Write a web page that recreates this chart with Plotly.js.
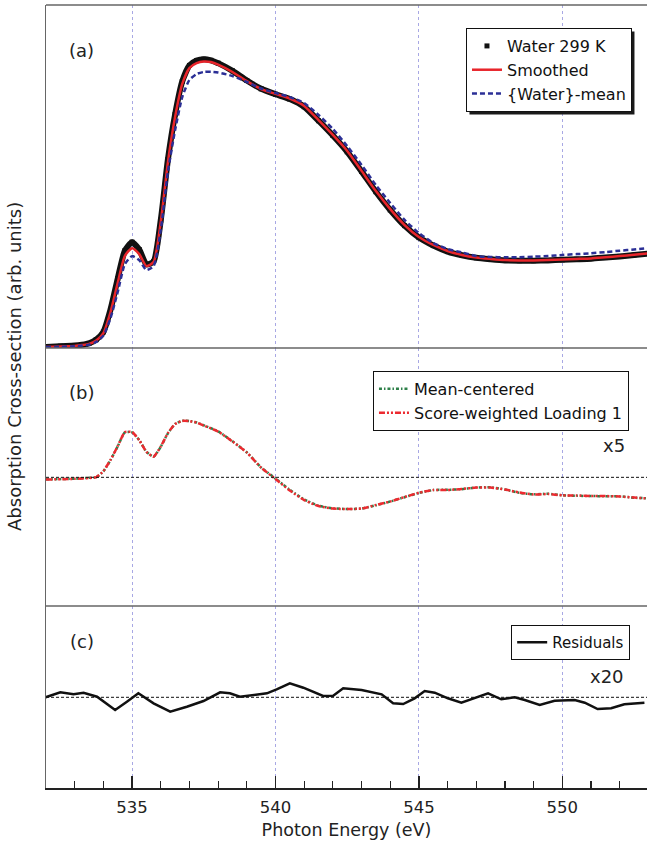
<!DOCTYPE html>
<html><head><meta charset="utf-8">
<script src="https://cdn.plot.ly/plotly-3.0.1.min.js"></script>
<style>html,body{margin:0;padding:0;background:#fff}#chart{width:647px;height:841px}</style>
</head><body><div id="chart"></div>
<script>
// Panel (a): absorption spectra
const energyA = [532,532.5,533,533.25,533.5,533.75,534,534.25,534.5,534.75,535,535.25,535.5,535.75,536,536.25,536.5,536.75,537,537.25,537.5,537.75,538,538.5,539,539.5,540,540.5,541,541.5,542,542.5,543,543.5,544,544.5,545,545.5,546,546.5,547,547.5,548,548.5,549,549.5,550,550.5,551,551.5,552,552.5,553];
const water299K = [0.0,0.3,0.5,0.8,1.3,2.6,5.3,13.2,24.0,33.8,36.8,34.2,29.0,30.0,44.5,65.8,81.6,93.2,98.8,100.5,101.0,100.6,99.6,96.9,93.5,90.6,88.7,87.0,84.3,79.4,74.2,68.5,61.6,54.5,48.1,42.6,38.4,35.6,33.5,32.2,31.3,30.8,30.4,30.3,30.3,30.4,30.6,30.8,31.0,31.4,31.8,32.3,32.8];
const smoothed = [0.0,0.2,0.4,0.7,1.1,2.3,4.9,12.3,22.5,32.0,34.7,32.6,28.4,29.8,43.9,64.9,80.7,92.3,97.9,99.6,100.2,100.0,99.1,96.5,93.3,90.5,88.8,87.2,84.6,79.6,74.4,68.8,61.8,54.7,48.4,42.8,38.6,35.8,33.7,32.3,31.4,30.9,30.5,30.4,30.4,30.5,30.7,30.9,31.1,31.5,31.9,32.4,32.9];
const waterMean = [0.0,0.1,0.3,0.5,0.8,1.8,4.0,10.2,19.3,29.1,31.9,30.5,27.0,28.4,41.0,61.4,76.1,87.7,93.7,95.8,96.5,96.6,96.3,95.1,93.0,90.7,89.1,87.7,85.6,81.4,76.5,70.5,63.9,56.8,50.5,44.6,40.0,36.5,34.4,33.2,31.9,31.6,31.5,31.5,31.7,31.9,32.3,32.6,32.9,33.3,33.8,34.2,34.7];

// Panel (b): mean-centered spectrum and score-weighted loading (x5)
const energyB = [532,533,533.5,533.75,534,534.25,534.5,534.75,535,535.25,535.5,535.75,536,536.25,536.5,536.75,537,537.25,537.5,538,538.5,539,539.5,540,540.5,541,541.5,542,542.5,543,543.5,544,544.5,545,545.5,546,546.5,547,547.5,548,548.5,549,549.5,550,550.5,551,551.5,552,552.5,553];
const meanCentered = [-0.20,-0.14,-0.05,0.00,0.60,1.73,3.10,4.50,4.50,3.73,2.56,2.06,3.06,4.40,5.33,5.66,5.63,5.48,5.20,4.60,3.60,2.50,0.98,-0.12,-1.25,-2.22,-2.84,-3.10,-3.17,-3.12,-2.79,-2.42,-1.99,-1.56,-1.27,-1.25,-1.18,-1.02,-1.00,-1.22,-1.55,-1.70,-1.64,-1.80,-1.85,-1.86,-1.90,-1.90,-2.04,-2.10];
const scoreLoading1 = [-0.22,-0.15,-0.06,0.01,0.62,1.75,3.12,4.52,4.53,3.72,2.55,2.07,3.08,4.42,5.32,5.64,5.62,5.47,5.18,4.58,3.58,2.48,0.97,-0.17,-1.32,-2.27,-2.87,-3.12,-3.17,-3.12,-2.77,-2.42,-1.97,-1.54,-1.27,-1.27,-1.17,-1.02,-1.02,-1.22,-1.52,-1.72,-1.67,-1.80,-1.82,-1.87,-1.87,-1.92,-2.02,-2.12];

// Panel (c): residuals (x20)
const energyC = [531.98,532.5,532.96,533.31,533.78,534.41,534.82,535.22,535.75,536.33,536.91,537.49,538.07,538.41,538.76,539.23,539.7,540.04,540.5,540.97,541.66,542.01,542.36,543.0,543.7,544.1,544.45,544.85,545.2,545.55,546.01,546.48,546.94,547.41,547.87,548.34,548.69,549.21,549.73,550.43,550.78,551.23,551.7,552.16,552.86];
const residuals = [0.0,0.5,0.3,0.46,0.06,-1.27,-0.44,0.4,-0.6,-1.44,-0.94,-0.37,0.5,0.4,0.06,0.23,0.4,0.8,1.4,0.96,0.13,0.16,0.9,0.73,0.3,-0.6,-0.67,-0.1,0.63,0.46,-0.1,-0.54,-0.1,0.4,-0.2,0.0,-0.27,-0.77,-0.34,-0.27,-0.54,-1.17,-1.1,-0.7,-0.54];

const FONT = 'DejaVu Sans, sans-serif';
const TXT = '#222';

const traces = [
  {x: energyA, y: water299K, xaxis:'x', yaxis:'y', mode:'lines', line:{color:'#111', width:6, shape:'spline', smoothing:0.6},
   legendgroup:'raw', showlegend:false, legend:'legend', hoverinfo:'skip'},
  {x: energyA, y: water299K, xaxis:'x', yaxis:'y', mode:'markers', name:'Water 299 K',
   marker:{symbol:'square', size:5, color:'#111'}, legendgroup:'raw', legend:'legend'},
  {x: energyA, y: smoothed, xaxis:'x', yaxis:'y', mode:'lines', name:'Smoothed',
   line:{color:'#e8252b', width:2.5, shape:'spline', smoothing:0.6}, legend:'legend'},
  {x: energyA, y: waterMean, xaxis:'x', yaxis:'y', mode:'lines', name:'{Water}-mean',
   line:{color:'#2b2f96', width:2.5, dash:'5px,3px', shape:'spline', smoothing:0.6}, legend:'legend'},

  {x: energyB, y: meanCentered, xaxis:'x', yaxis:'y2', mode:'lines', name:'Mean-centered',
   line:{color:'#2e8049', width:2.5, dash:'3px,2px,1.5px,2px', shape:'spline', smoothing:0.5}, legend:'legend2'},
  {x: energyB, y: scoreLoading1, xaxis:'x', yaxis:'y2', mode:'lines', name:'Score-weighted Loading 1',
   line:{color:'#ec2a30', width:2.5, dash:'6px,2px,2px,2px,2px,2px', shape:'spline', smoothing:0.5}, legend:'legend2'},

  {x: energyC, y: residuals, xaxis:'x', yaxis:'y3', mode:'lines', name:'Residuals',
   line:{color:'#111', width:2.5}, legend:'legend3'}
];

const yCommon = {showticklabels:false, ticks:'', showgrid:false, zeroline:false, showline:true, linecolor:'#666', linewidth:1.5, anchor:'x'};
const legCommon = {xanchor:'right', yanchor:'top', bgcolor:'#fff', bordercolor:'#111', borderwidth:1, tracegroupgap:0, itemwidth:30};
const ann = (text, x, y, size, extra) => Object.assign({text, x, y, xref:'paper', yref:'paper', xanchor:'center', yanchor:'middle',
  showarrow:false, font:{size, family:FONT, color:TXT}}, extra || {});

const layout = {
  width:647, height:841,
  margin:{l:46, r:0, t:5, b:53},
  paper_bgcolor:'#fff', plot_bgcolor:'rgba(0,0,0,0)',
  font:{family:FONT, color:TXT, size:16},
  xaxis:{anchor:'y3', range:[532,552.95], tick0:535, dtick:5, ticks:'inside', ticklen:12, tickwidth:1.5, tickcolor:'#222',
    showline:true, linecolor:'#222', linewidth:1.5, zeroline:false,
    showgrid:true, gridcolor:'#a8a8e4', griddash:'dot', gridwidth:1,
    minor:{dtick:1, ticks:'inside', ticklen:7, tickwidth:1.2, tickcolor:'#222', showgrid:false},
    tickfont:{size:16.5, family:FONT, color:TXT}, ticklabelstandoff:4,
    title:{text:'Photon Energy (eV)', font:{size:17.5, family:FONT, color:TXT}, standoff:7}},
  yaxis:Object.assign({domain:[0.5619,1], range:[-0.35,120]}, yCommon),
  yaxis2:Object.assign({domain:[0.2324,0.5619], range:[-12.87,12.93]}, yCommon),
  yaxis3:Object.assign({domain:[0,0.2324], range:[-9.07,9.13]}, yCommon),
  legend:Object.assign({x:0.975, y:0.9706, font:{size:16, family:FONT, color:'#111'}}, legCommon),
  legend2:Object.assign({x:0.970, y:0.5326, font:{size:16, family:FONT, color:'#111'}}, legCommon),
  legend3:Object.assign({x:0.972, y:0.2082, font:{size:15, family:FONT, color:'#111'}}, legCommon),
  shapes:[
    {type:'line', xref:'paper', yref:'paper', x0:0, x1:1, y0:1, y1:1, line:{color:'#666', width:1.5}},
    {type:'line', xref:'paper', yref:'paper', x0:0, x1:1, y0:0.5619, y1:0.5619, line:{color:'#666', width:1.5}},
    {type:'line', xref:'paper', yref:'paper', x0:0, x1:1, y0:0.2324, y1:0.2324, line:{color:'#666', width:1.5}},
    {type:'line', xref:'paper', yref:'y2', x0:0, x1:1, y0:0, y1:0, line:{color:'#111', width:1, dash:'3px,2px'}},
    {type:'line', xref:'paper', yref:'y3', x0:0, x1:1, y0:0, y1:0, line:{color:'#111', width:1, dash:'3px,2px'}}
  ],
  annotations:[
    ann('(a)', 0.0599, 0.9413, 18),
    ann('(b)', 0.0599, 0.5057, 18),
    ann('(c)', 0.0599, 0.1877, 18),
    ann('x5', 0.945, 0.438, 18),
    ann('x20', 0.9334, 0.1418, 18),
    ann('Absorption Cross-section (arb. units)', -0.0516, 0.539, 18, {textangle:-90})
  ]
};

Plotly.newPlot('chart', traces, layout, {displayModeBar:false, staticPlot:true}).then(gd => {
  // drop shadows behind the legend boxes
  const s = gd._fullLayout._size;
  const c = gd.getBoundingClientRect();
  const shapes = layout.shapes.slice();
  gd.querySelectorAll('g.legend rect.bg').forEach(bg => {
    const r = bg.getBoundingClientRect();
    const off = 3;
    const x0 = r.left - c.left + off, x1 = r.right - c.left + off;
    const y0 = r.top - c.top + off, y1 = r.bottom - c.top + off;
    shapes.push({type:'rect', xref:'paper', yref:'paper', layer:'above',
      x0:(x0 - s.l)/s.w, x1:(x1 - s.l)/s.w, y0:1 - (y1 - s.t)/s.h, y1:1 - (y0 - s.t)/s.h,
      fillcolor:'#1a1a1a', line:{width:0}});
  });
  return Plotly.relayout(gd, {shapes});
});
</script>
</body></html>
